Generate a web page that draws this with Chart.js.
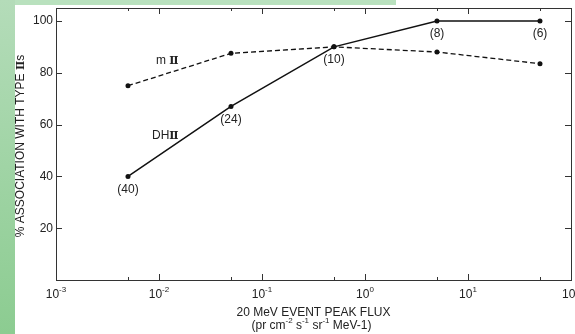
<!DOCTYPE html>
<html>
<head>
<meta charset="utf-8">
<script src="https://cdn.jsdelivr.net/npm/chart.js@4.4.1/dist/chart.umd.min.js"></script>
<style>
  html, body { margin: 0; padding: 0; background: #fff; }
  #wrap { position: relative; width: 575px; height: 334px; overflow: hidden; }
  #leftStrip { position: absolute; left: 0; top: 0; width: 15px; height: 334px;
               background: linear-gradient(#b4dcb9, #8ccc91); }
  #topStrip { position: absolute; left: 15px; top: 0; width: 381px; height: 5px; background: #b9e1be; }
  canvas { position: absolute; left: 0; top: 0; }
</style>
</head>
<body>
<div id="wrap">
  <div id="leftStrip"></div>
  <div id="topStrip"></div>
  <canvas id="fluxChart" width="575" height="334"></canvas>
</div>
<script>
// values
const fluxValues = [5e-3, 5e-2, 5e-1, 5, 50];
const dhPercent = [40, 67, 90, 100, 100];
const mPercent = [75, 87.5, 90, 88, 83.5];
const dhCounts = ["(40)", "(24)", "(10)", "(8)", "(6)"];

const xTickExponents = [-3, -2, -1, 0, 1, 2];
const xMinorTicks = [5e-3, 5e-2, 5e-1, 5, 50];
const yTicks = [20, 40, 60, 80, 100];

const font = '"Liberation Sans", Arial, sans-serif';
const romanFont = '"DejaVu Serif", serif';
const ink = "#222";

function toPoints(ys) {
    return fluxValues.map((x, i) => ({ x: x, y: ys[i] }));
}

// pieces: [text, kind] with kind "" normal, "sup" superscript, "rom" bold roman numeral
function pieceFont(kind, size) {
    if (kind === "sup") return Math.round(size * 0.7) + "px " + font;
    if (kind === "rom") return "bold " + (size - 1) + "px " + romanFont;
    return size + "px " + font;
}

function drawPieces(ctx, pieces, cx, y, size, align) {
    let total = 0;
    pieces.forEach(p => {
        ctx.font = pieceFont(p[1], size);
        total += ctx.measureText(p[0]).width;
    });
    let x = align === "left" ? cx : cx - total / 2;
    ctx.textAlign = "left";
    ctx.textBaseline = "middle";
    pieces.forEach(p => {
        ctx.font = pieceFont(p[1], size);
        ctx.fillText(p[0], x, p[1] === "sup" ? y - size * 0.4 : y);
        x += ctx.measureText(p[0]).width;
    });
}

const framePlugin = {
    id: "frame",
    afterDraw(chart) {
        const ctx = chart.ctx;
        const a = chart.chartArea;
        const xs = chart.scales.x;
        const ys = chart.scales.y;
        ctx.save();
        ctx.strokeStyle = "#333";
        ctx.lineWidth = 1;
        ctx.strokeRect(a.left + 0.5, a.top + 0.5, a.right - a.left, a.bottom - a.top);

        // inward ticks
        ctx.beginPath();
        xTickExponents.forEach(e => {
            const px = Math.round(xs.getPixelForValue(Math.pow(10, e))) + 0.5;
            ctx.moveTo(px, a.bottom); ctx.lineTo(px, a.bottom - 6);
            ctx.moveTo(px, a.top); ctx.lineTo(px, a.top + 6);
        });
        xMinorTicks.forEach(v => {
            const px = Math.round(xs.getPixelForValue(v)) + 0.5;
            ctx.moveTo(px, a.bottom); ctx.lineTo(px, a.bottom - 3);
            ctx.moveTo(px, a.top); ctx.lineTo(px, a.top + 3);
        });
        yTicks.forEach(v => {
            const py = Math.round(ys.getPixelForValue(v)) + 0.5;
            ctx.moveTo(a.left, py); ctx.lineTo(a.left + 6, py);
            ctx.moveTo(a.right, py); ctx.lineTo(a.right - 6, py);
        });
        ctx.stroke();

        ctx.fillStyle = ink;
        // x tick labels 10^n
        xTickExponents.forEach(e => {
            const px = xs.getPixelForValue(Math.pow(10, e));
            drawPieces(ctx, [["10", ""], [String(e), "sup"]], px, a.bottom + 15, 12);
        });
        // y tick labels
        ctx.font = "12px " + font;
        ctx.textAlign = "right";
        ctx.textBaseline = "middle";
        yTicks.forEach(v => {
            ctx.fillText(String(v), a.left - 3, ys.getPixelForValue(v));
        });

        // axis titles
        const cx = (a.left + a.right) / 2;
        drawPieces(ctx, [["20 MeV EVENT PEAK FLUX", ""]], cx, 313, 12);
        drawPieces(ctx, [["(pr cm", ""], ["-2", "sup"], [" s", ""], ["-1", "sup"],
                         [" sr", ""], ["-1", "sup"], [" MeV-1)", ""]], cx - 2, 326, 12);
        ctx.save();
        ctx.translate(21, (a.top + a.bottom) / 2 + 2);
        ctx.rotate(-Math.PI / 2);
        drawPieces(ctx, [["% ASSOCIATION WITH TYPE ", ""], ["\u2161", "rom"], ["s", ""]], 0, 0, 12);
        ctx.restore();

        // event counts under the DH points
        const meta = chart.getDatasetMeta(1);
        ctx.font = "12px " + font;
        ctx.textAlign = "center";
        ctx.textBaseline = "middle";
        meta.data.forEach((pt, i) => {
            ctx.fillText(dhCounts[i], pt.x, pt.y + 13);
        });

        // curve names
        drawPieces(ctx, [["m ", ""], ["\u2161", "rom"]], 156, 61, 12, "left");
        drawPieces(ctx, [["DH", ""], ["\u2161", "rom"]], 152, 136, 12, "left");
        ctx.restore();
    }
};

new Chart(document.getElementById("fluxChart"), {
    type: "scatter",
    data: {
        datasets: [{
            label: "m II",
            data: toPoints(mPercent),
            showLine: true,
            borderColor: "#111",
            backgroundColor: "#111",
            borderWidth: 1.3,
            borderDash: [5, 3],
            pointRadius: 2.5,
            pointBorderWidth: 0
        }, {
            label: "DH II",
            data: toPoints(dhPercent),
            showLine: true,
            borderColor: "#111",
            backgroundColor: "#111",
            borderWidth: 1.5,
            pointRadius: 2.5,
            pointBorderWidth: 0
        }]
    },
    options: {
        responsive: false,
        animation: false,
        layout: { padding: { left: 56, top: 8, right: 2, bottom: 54 } },
        plugins: { legend: { display: false }, tooltip: { enabled: false } },
        scales: {
            x: { type: "logarithmic", min: 1e-3, max: 1e2, display: false },
            y: { type: "linear", min: 0, max: 105, display: false }
        }
    },
    plugins: [framePlugin]
});
</script>
</body>
</html>
